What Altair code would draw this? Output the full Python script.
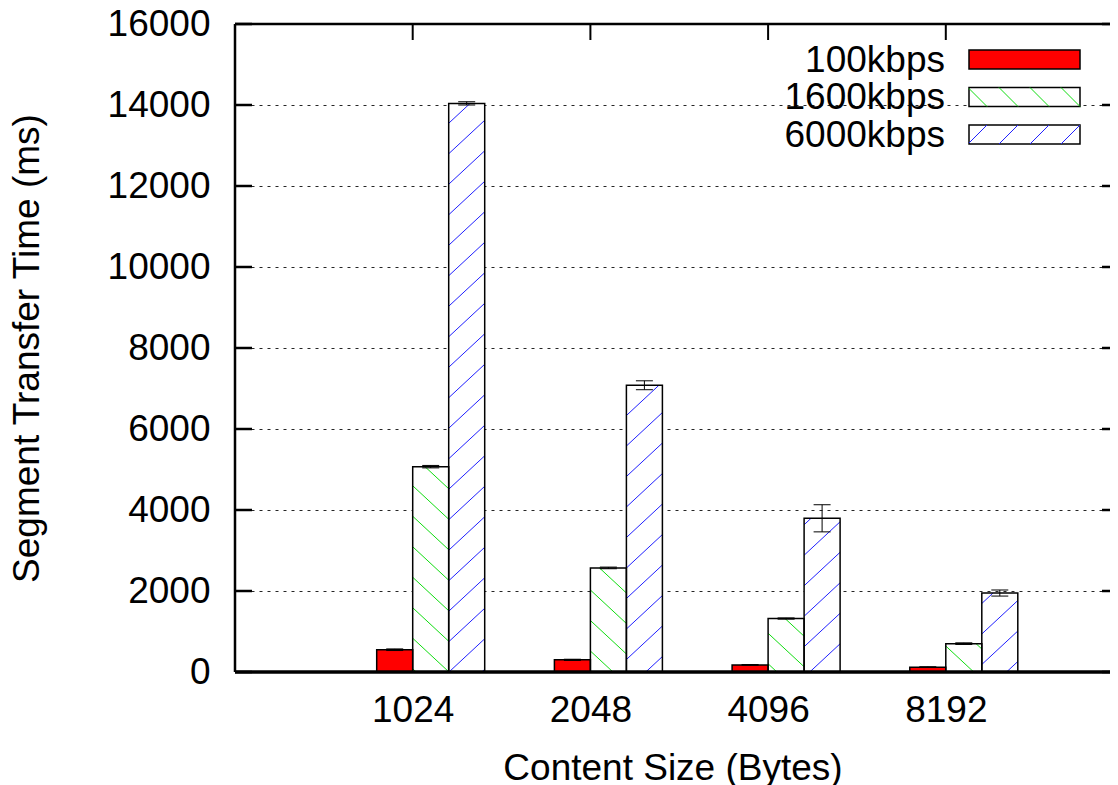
import math
import altair as alt
import pandas as pd

# ---------------- data ----------------
categories = ["1024", "2048", "4096", "8192"]
series_names = ["100kbps", "1600kbps", "6000kbps"]
values_100 = [550, 300, 175, 120]
values_1600 = [5070, 2570, 1320, 700]
values_6000 = [14040, 7080, 3795, 1950]
errors_100 = [20, 15, 10, 10]
errors_1600 = [30, 20, 15, 20]
errors_6000 = [40, 110, 335, 75]
y_tick_values = [0, 2000, 4000, 6000, 8000, 10000, 12000, 14000, 16000]

# ---------------- layout / style ----------------
W, H = 875, 648
PX_PER_CAT = 177.7
XMAX = W / PX_PER_CAT
YMAX = 16000
BAR = 0.2026
CAP = 0.0478
FONT = "Liberation Sans"
FS = 37
GREEN = "#10dd10"
BLUE = "#2020ff"

rows = []
for s_idx, (name, vals, errs) in enumerate(
    zip(series_names, [values_100, values_1600, values_6000], [errors_100, errors_1600, errors_6000])
):
    for c_idx, (cat, v, e) in enumerate(zip(categories, vals, errs)):
        rows.append(dict(category=cat, cat_pos=c_idx + 1, series=name, s_idx=s_idx, value=v, err=e))
bars = pd.DataFrame(rows)


# ---------------- hatch decoration derived from the bars ----------------
def clip_lines(X0, X1, Yt, Yb, s, b0, S):
    segs = []
    bs = [Y - s * X for X in (X0, X1) for Y in (Yt, Yb)]
    n0 = math.floor((min(bs) - b0) / S) - 1
    n1 = math.ceil((max(bs) - b0) / S) + 1
    for n in range(n0, n1 + 1):
        b = b0 + n * S
        xa = (Yt - b) / s
        xb = (Yb - b) / s
        lo = max(X0, min(xa, xb))
        hi = min(X1, max(xa, xb))
        if hi - lo > 0.8:
            segs.append((lo, s * lo + b, hi, s * hi + b))
    return segs


SLOPE = 0.93
SPACING = 30.5
hatch_rows = []
for r in rows:
    if r["s_idx"] == 0:
        continue
    x0u = r["cat_pos"] + (r["s_idx"] - 1) * BAR
    X0 = x0u * W / XMAX
    X1 = (x0u + BAR) * W / XMAX
    Yt = H - r["value"] * H / YMAX
    if r["s_idx"] == 1:
        s, b0 = SLOPE, H - SLOPE * 214
    else:
        s, b0 = -SLOPE, H + SLOPE * 214
    for (xa, ya, xb, yb) in clip_lines(X0, X1, Yt, H, s, b0, SPACING):
        hatch_rows.append(dict(
            series=r["series"],
            hx1=xa * XMAX / W, hy1=(H - ya) * YMAX / H,
            hx2=xb * XMAX / W, hy2=(H - yb) * YMAX / H,
        ))
hatch = pd.DataFrame(hatch_rows)

# legend (pixel coordinates inside plot area)
LEG_X0, LEG_X1 = 734, 845
LEG_TOPS = [26, 63.5, 101]
LEG_H = 19
LEG_TEXT_X = 710
leg_hatch_rows = []
for j in (1, 2):
    top = LEG_TOPS[j]
    if j == 1:
        s, b0 = 1.0, (top + LEG_H) - LEG_X1
    else:
        s, b0 = -1.0, top + LEG_X1
    for (xa, ya, xb, yb) in clip_lines(LEG_X0, LEG_X1, top, top + LEG_H, s, b0, 31):
        leg_hatch_rows.append(dict(series=series_names[j], lx1=xa, ly1=ya, lx2=xb, ly2=yb))
leg_hatch = pd.DataFrame(leg_hatch_rows)

one = pd.DataFrame({"k": [0]})
ticks_df = pd.DataFrame({"v": y_tick_values})
cat_df = pd.DataFrame({"pos": list(range(1, len(categories) + 1))})

# ---------------- scales / axes ----------------
XS = alt.Scale(domain=[0, XMAX], nice=False, zero=False)
YS = alt.Scale(domain=[0, YMAX], nice=False)
label_js = "[" + ",".join("'" + c + "'" for c in categories) + "][datum.value - 1]"
X_AX = alt.Axis(
    values=list(range(1, len(categories) + 1)), labelExpr=label_js, grid=False, ticks=False,
    domain=False, labelFont=FONT, labelFontSize=FS, labelColor="black", labelPadding=20,
    title="Content Size (Bytes)", titleFont=FONT, titleFontSize=FS, titleFontWeight="normal",
    titleColor="black", titlePadding=22,
)
Y_AX = alt.Axis(
    values=y_tick_values, format="d", grid=True, gridDash=[3, 5], gridColor="black", gridOpacity=0.85,
    gridWidth=1, ticks=False, domain=False, labelFont=FONT, labelFontSize=FS,
    labelColor="black", labelPadding=25, title="Segment Transfer Time (ms)", titleFont=FONT,
    titleFontSize=FS, titleFontWeight="normal", titleColor="black", titlePadding=61,
)


def X(f):
    return alt.X(f, type="quantitative", scale=XS, axis=X_AX)


def Y(f):
    return alt.Y(f, type="quantitative", scale=YS, axis=Y_AX)


base = alt.Chart(bars).transform_calculate(
    x0="datum.cat_pos + (datum.s_idx - 1) * %f" % BAR,
    x1="datum.cat_pos + datum.s_idx * %f" % BAR,
    xc="datum.cat_pos + (datum.s_idx - 0.5) * %f" % BAR,
    cl="datum.cat_pos + (datum.s_idx - 0.5) * %f - %f" % (BAR, CAP),
    cr="datum.cat_pos + (datum.s_idx - 0.5) * %f + %f" % (BAR, CAP),
    lo="datum.value - datum.err",
    hi="datum.value + datum.err",
    zero="0",
)

bar_fill = base.mark_rect(strokeWidth=0).encode(
    x=X("x0"), x2="x1", y=Y("value"), y2="zero",
    color=alt.Color("series:N", scale=alt.Scale(domain=series_names, range=["#ff0000", "#ffffff", "#ffffff"]), legend=None),
)

hatch_layers = []
for j, col in ((1, GREEN), (2, BLUE)):
    hatch_layers.append(
        alt.Chart(hatch).transform_filter(alt.datum.series == series_names[j]).mark_rule(color=col, strokeWidth=1).encode(
            x=X("hx1"), x2="hx2", y=Y("hy1"), y2="hy2"
        )
    )

bar_outline = base.mark_rect(fill="transparent", stroke="black", strokeWidth=1.5).encode(
    x=X("x0"), x2="x1", y=Y("value"), y2="zero"
)

err_v = base.mark_rule(color="black", strokeWidth=1).encode(x=X("xc"), y=Y("lo"), y2="hi")
err_top = base.mark_rule(color="black", strokeWidth=1).encode(x=X("cl"), x2="cr", y=Y("hi"))
err_bot = base.mark_rule(color="black", strokeWidth=1).encode(x=X("cl"), x2="cr", y=Y("lo"))

# frame and inward ticks
frame_left = alt.Chart(one).mark_rule(color="black", strokeWidth=2.5).encode(
    x=alt.value(0), y=alt.value(0), y2=alt.value(H))
frame_top = alt.Chart(one).mark_rule(color="black", strokeWidth=2.5).encode(
    x=alt.value(0), x2=alt.value(W + 10), y=alt.value(0))
frame_bottom = alt.Chart(one).mark_rule(color="black", strokeWidth=3.5).encode(
    x=alt.value(0), x2=alt.value(W + 10), y=alt.value(H))
ticks_left = alt.Chart(ticks_df).mark_rule(color="black", strokeWidth=2.5).encode(
    y=Y("v"), x=alt.value(0), x2=alt.value(17))
ticks_right = alt.Chart(ticks_df).mark_rule(color="black", strokeWidth=2.5).encode(
    y=Y("v"), x=alt.value(W - 8), x2=alt.value(W))
ticks_top = alt.Chart(cat_df).mark_rule(color="black", strokeWidth=2).encode(
    x=X("pos"), y=alt.value(0), y2=alt.value(16))

# legend
legend_layers = []
fills = ["#ff0000", "#ffffff", "#ffffff"]
for j, name in enumerate(series_names):
    top = LEG_TOPS[j]
    legend_layers.append(
        alt.Chart(one).mark_rect(fill=fills[j], stroke="black", strokeWidth=1.5).encode(
            x=alt.value(LEG_X0), x2=alt.value(LEG_X1), y=alt.value(top), y2=alt.value(top + LEG_H))
    )
    legend_layers.append(
        alt.Chart(one).mark_text(align="right", baseline="middle", font=FONT, fontSize=FS, color="black",
                                 text=name).encode(
            x=alt.value(LEG_TEXT_X), y=alt.value(top + LEG_H / 2 + 1))
    )
for j, col in ((1, GREEN), (2, BLUE)):
    legend_layers.append(
        alt.Chart(leg_hatch).transform_filter(alt.datum.series == series_names[j]).mark_rule(color=col, strokeWidth=1).encode(
            x=alt.X("lx1:Q", scale=None, axis=None), x2="lx2",
            y=alt.Y("ly1:Q", scale=None, axis=None), y2="ly2")
    )

chart = alt.layer(
    bar_fill, *hatch_layers, bar_outline, err_v, err_top, err_bot,
    ticks_left, ticks_right, ticks_top, frame_left, frame_top, frame_bottom,
    *legend_layers,
).properties(
    width=W, height=H,
    padding={"left": 227, "top": 16, "right": 0, "bottom": 113},
    autosize=alt.AutoSizeParams(type="none"),
).configure_view(stroke=None)

chart.save("out.html", embed_options={"renderer": "svg", "actions": False})
